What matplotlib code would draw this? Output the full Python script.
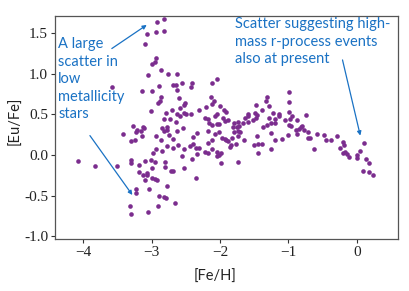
import matplotlib
matplotlib.use("Agg")
import matplotlib.pyplot as plt

plt.rcParams["font.family"] = ["Liberation Serif", "DejaVu Serif"]

# ---- data ----
fe_h = [
    -4.07, -3.83, -3.58, -3.50, -3.41, -3.32, -3.30,
    -3.27, -3.21, -3.12, -3.11, -3.23, -3.16, -3.14, -3.24, -3.30, -3.30, -3.30, -3.19, -3.10, -3.01,
    -3.19, -3.13, -3.07, -3.07, -2.99, -3.00, -3.09, -3.22, -3.22, -3.04, -3.05, -2.98,
    -2.92, -2.82, -3.06, -2.93, -2.82, -3.10, -2.93, -2.95, -2.99, -3.05, -2.86, -2.76, -2.63,
    -2.56, -2.41, -2.43, -2.11, -2.05, -3.14, -3.00, -2.89, -2.68, -2.64, -2.63, -2.86, -2.87,
    -2.90, -2.60, -2.13, -2.09, -2.11, -2.51, -2.52, -2.58, -2.20, -2.00, -1.94,
    -3.01, -2.79, -2.70, -2.63, -2.52, -2.49, -2.43, -2.30, -2.05, -2.82, -2.73, -2.64, -2.58,
    -2.22, -2.17, -2.07, -1.95, -2.16, -2.12, -2.05, -2.01, -1.92, -2.85, -2.78, -2.82, -2.77,
    -2.75, -2.54, -2.63, -2.93, -2.86, -2.69, -2.78, -2.93, -2.85, -2.62, -2.68, -2.52, -2.40,
    -2.33, -2.17, -2.08, -2.01, -1.97, -1.93, -2.11, -2.17, -2.39, -2.44, -2.35, -2.30, -2.11,
    -2.18, -2.05, -2.02, -2.33, -2.41, -2.55, -2.95, -2.81, -2.81, -2.71, -2.68, -2.52, -1.99,
    -2.95, -2.92, -2.35, -2.77, -2.89, -2.82, -2.79, -2.65, -2.90, -2.22, -1.98, -2.05, -1.74,
    -1.51, -1.44, -1.26,
    -1.88, -1.79, -1.73, -1.66, -1.59, -1.59, -1.52, -1.47, -1.46, -1.29, -1.20, -1.14, -1.05,
    -0.97, -0.95, -0.88, -1.81, -1.75, -1.72, -1.74, -1.71, -1.73, -1.79, -1.91, -1.88, -1.84,
    -1.85, -1.76, -1.83, -1.65, -1.46, -1.37, -1.31, -1.26, -1.19, -1.26, -1.20, -1.09, -1.44,
    -1.38, -0.89, -0.87, -0.84, -0.80, -0.99, -0.99, -0.99, -1.31, -1.33, -1.29, -1.39, -1.22,
    -1.14, -1.47, -1.49, -1.59, -1.91, -1.64, -0.82, -0.77, -0.71, -0.99, -0.96, -1.00,
    -0.75, -0.72, -0.69, -0.63, -0.58, -0.48, -0.45, -0.38, -0.29, -0.20, -0.19, -0.25, -0.21,
    -0.17, -0.14, -0.11, 0.00, 0.05, 0.11, 0.00, 0.13, 0.17, 0.09, 0.18, 0.23,
]
eu_fe = [
    -0.07, -0.13, 0.84, -0.13, 0.26, -0.62, -0.72,
    0.36, 0.31, 0.35, 0.33, 0.29, 0.30, 0.24, 0.18, 0.17, -0.06, -0.10, -0.12, -0.07, -0.06,
    -0.21, -0.24, -0.22, -0.25, -0.16, -0.28, -0.31, -0.42, -0.46, -0.42, -0.70, 0.02,
    1.64, 1.67, 1.49, 1.51, 1.53, 1.37, 1.19, 1.15, 1.12, 0.99, 1.05, 1.00, 1.00,
    0.89, 0.89, 0.84, 0.89, 0.93, 0.79, 0.79, 0.85, 0.86, 0.86, 0.80, 0.72, 0.66,
    0.64, 0.70, 0.72, 0.66, 0.63, 0.64, 0.62, 0.58, 0.59, 0.60, 0.56,
    0.54, 0.52, 0.55, 0.51, 0.52, 0.50, 0.50, 0.55, 0.50, 0.44, 0.44, 0.41, 0.48,
    0.46, 0.45, 0.48, 0.46, 0.39, 0.37, 0.38, 0.38, 0.42, 0.33, 0.35, 0.30, 0.31,
    0.25, 0.33, 0.30, 0.23, 0.18, 0.20, 0.11, 0.07, 0.05, 0.12, 0.09, 0.07, 0.22,
    0.27, 0.30, 0.26, 0.28, 0.21, 0.20, 0.18, 0.15, 0.14, 0.11, 0.09, 0.09, 0.07,
    0.03, 0.04, 0.00, 0.01, -0.05, -0.01, -0.09, -0.09, -0.14, -0.19, -0.19, -0.16, -0.10,
    -0.29, -0.30, -0.28, -0.38, -0.50, -0.52, -0.53, -0.59, -0.62, 0.04, 0.03, -0.01, -0.08,
    0.12, 0.02, 0.07,
    0.43, 0.40, 0.41, 0.40, 0.41, 0.48, 0.43, 0.46, 0.49, 0.46, 0.45, 0.48, 0.43,
    0.44, 0.48, 0.43, 0.35, 0.34, 0.36, 0.30, 0.28, 0.24, 0.28, 0.19, 0.17, 0.12,
    0.10, 0.14, 0.21, 0.18, 0.24, 0.35, 0.37, 0.39, 0.39, 0.27, 0.18, 0.20, 0.14,
    0.14, 0.31, 0.26, 0.32, 0.36, 0.78, 0.65, 0.53, 0.71, 0.66, 0.60, 0.56, 0.52,
    0.50, 0.62, 0.52, 0.51, 0.53, 0.46, 0.34, 0.31, 0.29, 0.37, 0.36, 0.25,
    0.49, 0.21, 0.21, 0.08, 0.26, 0.25, 0.18, 0.18, 0.24, 0.16, 0.13, 0.09, 0.02,
    0.04, 0.01, -0.02, 0.00, 0.05, 0.15, -0.04, -0.05, -0.10, -0.19, -0.21, -0.24,
]
x_ticks = [-4, -3, -2, -1, 0]
x_tick_labels = ["\u22124", "\u22123", "\u22122", "\u22121", "0"]
y_ticks = [-1.0, -0.5, 0.0, 0.5, 1.0, 1.5]
y_tick_labels = ["-1.0", "-0.5", "0.0", "0.5", "1.0", "1.5"]
x_label = "[Fe/H]"
y_label = "[Eu/Fe]"
note_left = "A large\nscatter in\nlow\nmetallicity\nstars"
note_right = "Scatter suggesting high-\nmass r-process events\nalso at present"

point_color = "#7b2d8e"
note_color = "#1a72c4"
sans = ["Lato", "DejaVu Sans"]
serif = ["Liberation Serif", "DejaVu Serif"]

fig = plt.figure(figsize=(4.09, 2.91), dpi=100)
ax = fig.add_axes([0.1345, 0.179, 0.8385, 0.766])
ax.scatter(fe_h, eu_fe, s=11, color=point_color, linewidths=0, zorder=3)

ax.set_xlim(-4.41, 0.6)
ax.set_ylim(-1.03, 1.71)
ax.set_xticks(x_ticks, labels=x_tick_labels, fontfamily=serif, fontsize=11, color="#222222")
ax.set_yticks(y_ticks, labels=y_tick_labels, fontfamily=serif, fontsize=11, color="#222222")
ax.tick_params(axis="both", direction="out", length=3, width=0.8, colors="#333333",
               labelcolor="#222222", pad=2)
for sp in ax.spines.values():
    sp.set_color("#555555")
    sp.set_linewidth(0.9)

fig.text(0.526, 0.048, x_label, ha="center", va="center", fontsize=10.5,
         family=sans, color="#222222")
fig.text(0.038, 0.584, y_label, ha="center", va="center", rotation=90,
         fontsize=10.5, family=sans, color="#222222")

ax.text(0.009, 0.905, note_left, transform=ax.transAxes, ha="left", va="top",
        fontsize=10.5, family=sans, color=note_color, linespacing=1.32)
ax.text(0.525, 0.995, note_right, transform=ax.transAxes, ha="left", va="top",
        fontsize=10.5, family=sans, color=note_color, linespacing=1.32)

arrow = dict(arrowstyle="-|>", color=note_color, lw=0.9, mutation_scale=6,
             shrinkA=0, shrinkB=0)
ax.annotate("", xy=(-3.07, 1.60), xytext=(-3.58, 1.31), arrowprops=arrow)
ax.annotate("", xy=(-3.28, -0.49), xytext=(-3.90, 0.24), arrowprops=arrow)
ax.annotate("", xy=(0.05, 0.24), xytext=(-0.21, 1.17), arrowprops=arrow)

fig.savefig("out.png", dpi=100)
